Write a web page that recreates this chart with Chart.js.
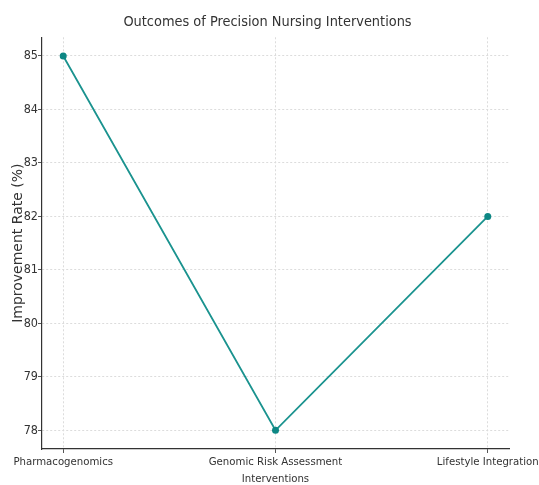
<!DOCTYPE html>
<html>
<head>
<meta charset="utf-8">
<script src="https://cdn.jsdelivr.net/npm/chart.js@4/dist/chart.umd.min.js"></script>
<style>
  html, body { margin: 0; padding: 0; background: #fff; }
  canvas { display: block; }
</style>
</head>
<body>
<canvas id="chart" width="539" height="485"></canvas>
<script>
const categories = ["Pharmacogenomics", ["Genomic Risk Assessment", "Interventions"], "Lifestyle Integration"];
const improvementRates = [85, 78, 82];
const yTickValues = [78, 79, 80, 81, 82, 83, 84, 85];

const narrowFont = "'DejaVu Sans Condensed', 'Liberation Sans Narrow', sans-serif";
const textColor = "#333333";
const gridColor = "#dcdcdc";

const points = improvementRates.map((v, i) => ({ x: i, y: v }));

const chart = new Chart(
    document.getElementById('chart'),
    {
        type: 'line',
        data: {
            datasets: [{
                data: points,
                borderColor: "#1b938f",
                backgroundColor: "#0d8784",
                borderWidth: 1.8,
                pointRadius: 3.5,
                pointBorderWidth: 0,
                pointHoverRadius: 3.5,
                tension: 0
            }]
        },
        options: {
            responsive: false,
            animation: false,
            devicePixelRatio: 1,
            layout: {
                padding: { left: 10, right: 14, top: 4, bottom: 0 }
            },
            plugins: {
                legend: { display: false },
                tooltip: { enabled: false },
                title: {
                    display: true,
                    text: "Outcomes of Precision Nursing Interventions",
                    color: textColor,
                    font: { family: narrowFont, size: 14.4, weight: 'normal' },
                    padding: { top: 10, bottom: 6 }
                }
            },
            scales: {
                x: {
                    type: 'linear',
                    min: -0.1,
                    max: 2.1,
                    afterBuildTicks: (scale) => {
                        scale.ticks = categories.map((c, i) => ({ value: i }));
                    },
                    afterFit: (scale) => {
                        scale.height = 36;
                        scale.paddingRight = 30;
                    },
                    ticks: {
                        color: textColor,
                        font: { family: narrowFont, size: 11.3, lineHeight: 1.55 },
                        autoSkip: false,
                        maxRotation: 0,
                        padding: 0,
                        callback: (value) => categories[value]
                    },
                    grid: {
                        color: gridColor,
                        tickColor: "#555555",
                        tickLength: 4
                    },
                    border: {
                        display: true,
                        color: "#333333",
                        width: 1.2,
                        dash: [2, 2]
                    }
                },
                y: {
                    min: 77.65,
                    max: 85.35,
                    afterBuildTicks: (scale) => {
                        scale.ticks = yTickValues.map(v => ({ value: v }));
                    },
                    afterFit: (scale) => { scale.width = 32; },
                    ticks: {
                        color: textColor,
                        font: { family: narrowFont, size: 12.5 },
                        padding: 0
                    },
                    title: {
                        display: true,
                        text: "Improvement Rate (%)",
                        color: textColor,
                        font: { family: "'DejaVu Sans', sans-serif", size: 14 },
                        padding: { top: 0, bottom: 0 }
                    },
                    grid: {
                        color: gridColor,
                        tickColor: "#555555",
                        tickLength: 4
                    },
                    border: {
                        display: true,
                        color: "#333333",
                        width: 1.2,
                        dash: [2, 2]
                    }
                }
            }
        }
    }
);
</script>
</body>
</html>
